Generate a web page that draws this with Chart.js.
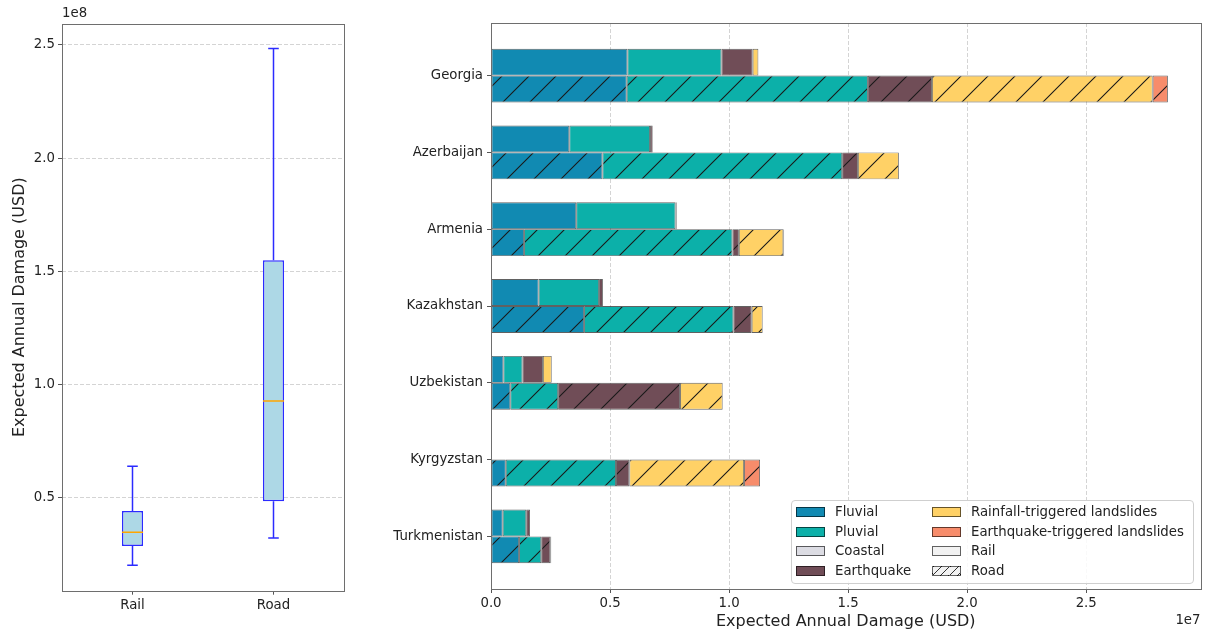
<!DOCTYPE html>
<html>
<head>
<meta charset="utf-8">
<script src="https://cdn.jsdelivr.net/npm/chart.js@4.4.1/dist/chart.umd.min.js"></script>
<style>
  body { margin: 0; background: #fff; width: 1205px; height: 637px; position: relative; overflow: hidden; font-family: 'DejaVu Sans', sans-serif; }
  #left { position: absolute; left: 0; top: 0; }
  #right { position: absolute; left: 352px; top: 0; }
  #legend { position: absolute; left: 791px; top: 500px; width: 401px; height: 82px; border: 1px solid #cfcfcf; border-radius: 4px; background: rgba(255,255,255,0.85); z-index: 2; }
  .item { position: absolute; height: 16px; font-size: 13.3px; line-height: 16px; color: #222; }
  .sw { position: absolute; left: 0; top: 3px; width: 27px; height: 8px; border: 1px solid rgba(0,0,0,0.6); }
  .item span { position: absolute; left: 39px; white-space: nowrap; }
</style>
</head>
<body>
<canvas id="left" width="352" height="637"></canvas>
<canvas id="right" width="853" height="637"></canvas>
<div id="legend"></div>
<script>
// left panel: distribution of totals (box plot)
var boxLabels = ['Rail', 'Road'];
var whiskerLow = [2.01e7, 3.22e7];
var quart1 = [2.86e7, 4.84e7];
var medians = [3.47e7, 9.27e7];
var quart3 = [4.41e7, 1.549e8];
var whiskerHigh = [6.39e7, 2.484e8];
var boxTicks = [0.5e8, 1.0e8, 1.5e8, 2.0e8, 2.5e8];

// right panel: damage by country, hazard and mode
var countries = ['Georgia', 'Azerbaijan', 'Armenia', 'Kazakhstan', 'Uzbekistan', 'Kyrgyzstan', 'Turkmenistan'];
var hazards = ['Fluvial', 'Pluvial', 'Coastal', 'Earthquake', 'Rainfall-triggered landslides', 'Earthquake-triggered landslides'];
var hazardColors = ['#118ab2', '#0cb0a9', '#dcdce3', '#704d57', '#ffd166', '#f78c6b'];

var railFluvial    = [5.73e6, 3.29e6, 3.58e6, 2.00e6, 0.52e6, 0.03e6, 0.49e6];
var railPluvial    = [3.95e6, 3.39e6, 4.17e6, 2.54e6, 0.80e6, 0, 0.99e6];
var railCoastal    = [0, 0, 0, 0, 0, 0, 0];
var railQuake      = [1.31e6, 0.11e6, 0.02e6, 0.16e6, 0.86e6, 0, 0.16e6];
var railRainSlide  = [0.24e6, 0, 0.03e6, 0, 0.37e6, 0, 0];
var railQuakeSlide = [0, 0, 0, 0, 0, 0, 0];

var roadFluvial    = [5.70e6, 4.68e6, 1.39e6, 3.91e6, 0.81e6, 0.62e6, 1.18e6];
var roadPluvial    = [10.13e6, 10.07e6, 8.75e6, 6.27e6, 2.01e6, 4.63e6, 0.93e6];
var roadCoastal    = [0, 0, 0, 0, 0, 0, 0];
var roadQuake      = [2.69e6, 0.66e6, 0.27e6, 0.77e6, 5.12e6, 0.56e6, 0.38e6];
var roadRainSlide  = [9.27e6, 1.72e6, 1.87e6, 0.46e6, 1.79e6, 4.82e6, 0.04e6];
var roadQuakeSlide = [0.64e6, 0, 0.03e6, 0, 0, 0.67e6, 0];

var damageTicks = [0, 0.5e7, 1.0e7, 1.5e7, 2.0e7, 2.5e7];

var railSeries = [railFluvial, railPluvial, railCoastal, railQuake, railRainSlide, railQuakeSlide];
var roadSeries = [roadFluvial, roadPluvial, roadCoastal, roadQuake, roadRainSlide, roadQuakeSlide];

Chart.defaults.font.family = "'DejaVu Sans', sans-serif";
Chart.defaults.font.size = 13.3;
Chart.defaults.color = '#222';

var gridColor = '#d4d4d4';
var tickColor = '#555';

function hatch(color) {
    var s = 27, k = 10;
    var c = document.createElement('canvas');
    c.width = s; c.height = s;
    var g = c.getContext('2d');
    g.fillStyle = color;
    g.fillRect(0, 0, s, s);
    g.strokeStyle = '#1a1a1a';
    g.lineWidth = 1.1;
    g.beginPath();
    for (var m = -1; m <= 2; m++) {
        var d = k + m * s;
        g.moveTo(d - s - 2, s + 2);
        g.lineTo(d + 2, -2);
    }
    g.stroke();
    return g.createPattern(c, 'repeat');
}

var framePlugin = {
    id: 'frame',
    afterDraw: function(chart) {
        var a = chart.chartArea, ctx = chart.ctx;
        ctx.save();
        ctx.strokeStyle = '#6e6e6e';
        ctx.lineWidth = 1;
        ctx.strokeRect(Math.round(a.left) + 0.5, Math.round(a.top) + 0.5, Math.round(a.right - a.left), Math.round(a.bottom - a.top));
        ctx.restore();
    }
};

var expPlugin = {
    id: 'expLabel',
    afterDraw: function(chart, args, opts) {
        if (!opts.text) return;
        var a = chart.chartArea, ctx = chart.ctx;
        ctx.save();
        ctx.font = "13.3px 'DejaVu Sans'";
        ctx.fillStyle = '#222';
        if (opts.pos === 'top') {
            ctx.textAlign = 'left';
            ctx.textBaseline = 'bottom';
            ctx.fillText(opts.text, a.left, a.top - 3);
        } else {
            ctx.textAlign = 'right';
            ctx.textBaseline = 'middle';
            ctx.fillText(opts.text, a.right, a.bottom + 32);
        }
        ctx.restore();
    }
};

// ---- left: box plot ----
var boxW = 0.15;
var whiskerData = [], capData = [], medianData = [];
for (let i = 0; i < boxLabels.length; i++) {
    const p = i + 1;
    whiskerData.push({x: p, y: whiskerLow[i]}, {x: p, y: quart1[i]}, {x: p, y: null},
                     {x: p, y: quart3[i]}, {x: p, y: whiskerHigh[i]}, {x: p, y: null});
    capData.push({x: p - boxW / 4, y: whiskerLow[i]}, {x: p + boxW / 4, y: whiskerLow[i]}, {x: p, y: null},
                 {x: p - boxW / 4, y: whiskerHigh[i]}, {x: p + boxW / 4, y: whiskerHigh[i]}, {x: p, y: null});
    medianData.push({x: p - boxW / 2, y: medians[i]}, {x: p + boxW / 2, y: medians[i]}, {x: p, y: null});
}

var boxBlue = '#2b2bff';
new Chart(document.getElementById('left'), {
    type: 'bar',
    data: {
        datasets: [
            {
                type: 'bar', order: 3,
                data: boxLabels.map((_, i) => ({x: i + 1, y: [quart1[i], quart3[i]]})),
                backgroundColor: '#add8e6', borderColor: boxBlue, borderWidth: 1.5, borderSkipped: false,
                barPercentage: boxW, categoryPercentage: 1
            },
            { type: 'line', order: 2, data: whiskerData, borderColor: boxBlue, borderWidth: 1.5, pointRadius: 0, spanGaps: false, fill: false },
            { type: 'line', order: 2, data: capData, borderColor: boxBlue, borderWidth: 1.5, pointRadius: 0, spanGaps: false, fill: false },
            { type: 'line', order: 1, data: medianData, borderColor: '#ffa500', borderWidth: 1.5, pointRadius: 0, spanGaps: false, fill: false }
        ]
    },
    options: {
        responsive: false,
        animation: false,
        layout: { padding: { top: 23.6, right: 8, left: 0, bottom: 0 } },
        plugins: { legend: { display: false }, tooltip: { enabled: false }, expLabel: { text: '1e8', pos: 'top' } },
        scales: {
            x: {
                type: 'linear', min: 0.5, max: 2.5, offset: false,
                afterBuildTicks: s => { s.ticks = boxLabels.map((_, i) => ({value: i + 1})); },
                afterFit: s => { s.height = 46.3; },
                ticks: { callback: v => boxLabels[v - 1], padding: 3, autoSkip: false, maxRotation: 0 },
                grid: { offset: false, drawOnChartArea: false, tickLength: 4, tickColor: tickColor },
                border: { display: false }
            },
            y: {
                type: 'linear', min: 0.089e8, max: 2.594e8,
                afterBuildTicks: s => { s.ticks = boxTicks.map(v => ({value: v})); },
                afterFit: s => { s.width = 62; },
                ticks: { callback: v => (v / 1e8).toFixed(1), padding: 3 },
                grid: { color: gridColor, tickLength: 4, tickColor: tickColor, tickBorderDash: [] },
                border: { display: false, dash: [4, 2] },
                title: { display: true, text: 'Expected Annual Damage (USD)', font: { size: 16 }, padding: { top: 10.4, bottom: 0 } }
            }
        }
    },
    plugins: [framePlugin, expPlugin]
});

// ---- right: stacked bars, rail on top, road hatched below ----
var datasets = [];
hazards.forEach(function(h, j) {
    datasets.push({
        label: h + ' (Rail)', stack: 'Rail',
        data: countries.map((c, i) => ({y: i, x: railSeries[j][i]})),
        backgroundColor: hazardColors[j]
    });
});
hazards.forEach(function(h, j) {
    datasets.push({
        label: h + ' (Road)', stack: 'Road',
        data: countries.map((c, i) => ({y: i, x: roadSeries[j][i]})),
        backgroundColor: hatch(hazardColors[j])
    });
});
datasets.forEach(function(d) {
    d.borderColor = 'rgba(30,30,30,0.7)';
    d.borderWidth = 0.9;
    d.borderSkipped = false;
    d.categoryPercentage = 0.7;
    d.barPercentage = 1.0;
});

new Chart(document.getElementById('right'), {
    type: 'bar',
    data: { datasets: datasets },
    options: {
        indexAxis: 'y',
        responsive: false,
        animation: false,
        layout: { padding: { top: 23, right: 4.5, left: 0, bottom: 0 } },
        plugins: { legend: { display: false }, tooltip: { enabled: false }, expLabel: { text: '1e7', pos: 'bottom' } },
        scales: {
            x: {
                type: 'linear', stacked: true, min: 0, max: 2.98e7,
                afterBuildTicks: s => { s.ticks = damageTicks.map(v => ({value: v})); },
                afterFit: s => { s.height = 48; },
                ticks: { callback: v => (v / 1e7).toFixed(1), padding: 3, autoSkip: false, maxRotation: 0 },
                grid: { color: gridColor, tickLength: 4, tickColor: tickColor, tickBorderDash: [] },
                border: { display: false, dash: [4, 2] },
                title: { display: true, text: 'Expected Annual Damage (USD)', font: { size: 16 }, padding: { top: 0, bottom: 5.4 } }
            },
            y: {
                type: 'linear', reverse: true, min: -0.685, max: 6.685, offset: false,
                afterBuildTicks: s => { s.ticks = countries.map((c, i) => ({value: i})); },
                afterFit: s => { s.width = 139; },
                ticks: { callback: v => countries[v], padding: 4, autoSkip: false },
                grid: { offset: false, drawOnChartArea: false, tickLength: 4, tickColor: tickColor },
                border: { display: false }
            }
        }
    },
    plugins: [framePlugin, expPlugin]
});

// ---- legend (two columns) ----
var legendNames = hazards.concat(['Rail', 'Road']);
var legendFills = hazardColors.concat(['#f2f2f2', 'repeating-linear-gradient(135deg, #f2f2f2 0 5px, #333 5px 6px)']);
var legend = document.getElementById('legend');
legendNames.forEach(function(name, i) {
    var col = Math.floor(i / 4), row = i % 4;
    var item = document.createElement('div');
    item.className = 'item';
    item.style.left = (col === 0 ? 4 : 140) + 'px';
    item.style.top = (2.7 + row * 19.8) + 'px';
    var sw = document.createElement('div');
    sw.className = 'sw';
    sw.style.background = legendFills[i];
    var t = document.createElement('span');
    t.textContent = name;
    item.appendChild(sw);
    item.appendChild(t);
    legend.appendChild(item);
});
</script>
</body>
</html>
